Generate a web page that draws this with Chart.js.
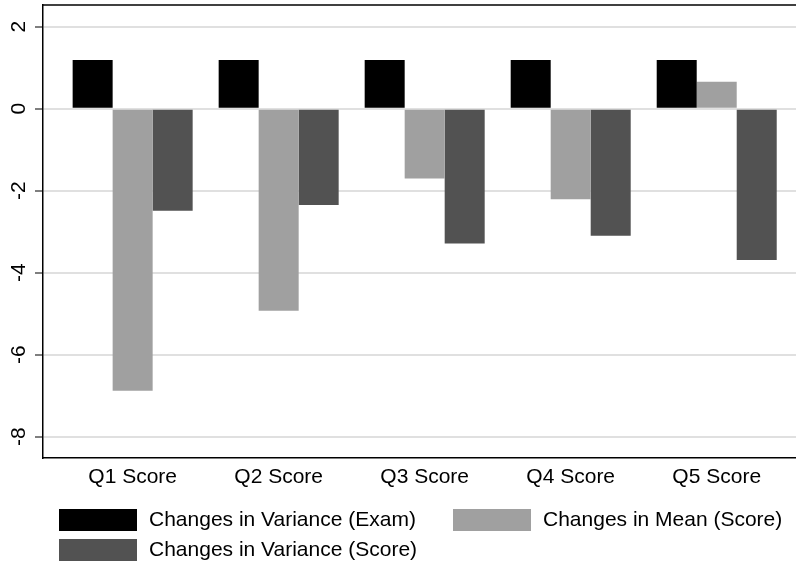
<!DOCTYPE html>
<html>
<head>
<meta charset="utf-8">
<script src="https://cdn.jsdelivr.net/npm/chart.js@4"></script>
<style>
  html, body { margin: 0; padding: 0; background: #fff; }
  #grafico { display: block; }
</style>
</head>
<body>
<canvas id="grafico" width="796" height="564"></canvas>
<script>
// === DADOS ===
const categorias = ["Q1 Score", "Q2 Score", "Q3 Score", "Q4 Score", "Q5 Score"];
const nomesSeries = ["Changes in Variance (Exam)", "Changes in Mean (Score)", "Changes in Variance (Score)"];
const varianciaExame = [1.19, 1.19, 1.19, 1.19, 1.19];
const mediaScore = [-6.88, -4.93, -1.70, -2.21, 0.66];
const varianciaScore = [-2.49, -2.35, -3.29, -3.10, -3.69];
const ticksY = [-8, -6, -4, -2, 0, 2];
const coresSeries = ["#000000", "#a0a0a0", "#525252"];

const fonte = "'Liberation Sans', Arial, Helvetica, sans-serif";
Chart.defaults.font.family = fonte;
Chart.defaults.font.size = 21;
Chart.defaults.color = "#000";

function paraPontos(valores) {
  return valores.map((v, i) => ({ x: i + 1, y: v }));
}

// moldura de cima + legenda desenhada à mão (duas colunas, como no original)
const pluginMoldura = {
  id: "moldura",
  afterDraw(chart) {
    const ctx = chart.ctx;
    const area = chart.chartArea;
    ctx.save();
    ctx.strokeStyle = "#000";
    ctx.lineWidth = 1.5;
    ctx.beginPath();
    ctx.moveTo(area.left, area.top);
    ctx.lineTo(area.right, area.top);
    ctx.stroke();

    const posicoes = [
      { x: 59, y: 509 },
      { x: 453, y: 509 },
      { x: 59, y: 539 }
    ];
    ctx.font = "21px " + fonte;
    ctx.textBaseline = "middle";
    ctx.textAlign = "left";
    chart.data.datasets.forEach((ds, i) => {
      const p = posicoes[i];
      ctx.fillStyle = ds.backgroundColor;
      ctx.fillRect(p.x, p.y, 78, 22);
      ctx.fillStyle = "#000";
      ctx.fillText(ds.label, p.x + 90, p.y + 11.5);
    });
    ctx.restore();
  }
};

const ctx = document.getElementById("grafico").getContext("2d");
new Chart(ctx, {
  type: "bar",
  data: {
    datasets: [
      { label: nomesSeries[0], data: paraPontos(varianciaExame), backgroundColor: coresSeries[0] },
      { label: nomesSeries[1], data: paraPontos(mediaScore), backgroundColor: coresSeries[1] },
      { label: nomesSeries[2], data: paraPontos(varianciaScore), backgroundColor: coresSeries[2] }
    ]
  },
  options: {
    responsive: false,
    animation: false,
    layout: { padding: { top: 5, right: 0, bottom: 66, left: 0 } },
    datasets: {
      bar: { categoryPercentage: 120 / 146, barPercentage: 1, borderWidth: 0 }
    },
    plugins: {
      legend: { display: false },
      tooltip: { enabled: false }
    },
    scales: {
      x: {
        type: "linear",
        offset: false,
        min: 0.386,
        max: 5.543,
        grid: { display: false, drawTicks: false },
        border: { display: true, color: "#000", width: 1.5 },
        afterBuildTicks: (eixo) => { eixo.ticks = categorias.map((c, i) => ({ value: i + 1 })); },
        afterFit: (eixo) => {
          eixo.height = 40;
          eixo.paddingLeft = 0;
          eixo.paddingRight = 0;
        },
        ticks: {
          padding: 7,
          autoSkip: false,
          maxRotation: 0,
          callback: (valor) => categorias[valor - 1] || ""
        }
      },
      y: {
        min: -8.52,
        max: 2.53,
        afterBuildTicks: (eixo) => { eixo.ticks = ticksY.map(v => ({ value: v })); },
        afterFit: (eixo) => {
          eixo.width = 43;
          eixo.paddingTop = 0;
          eixo.paddingBottom = 0;
        },
        grid: { color: "#e0e0e0", lineWidth: 2, tickColor: "#555", tickLength: 8, tickWidth: 1.5 },
        border: { display: true, color: "#000", width: 1.5 },
        ticks: {
          padding: 6,
          minRotation: 90,
          maxRotation: 90,
          crossAlign: "center",
          autoSkip: false
        }
      }
    }
  },
  plugins: [pluginMoldura]
});
</script>
</body>
</html>
